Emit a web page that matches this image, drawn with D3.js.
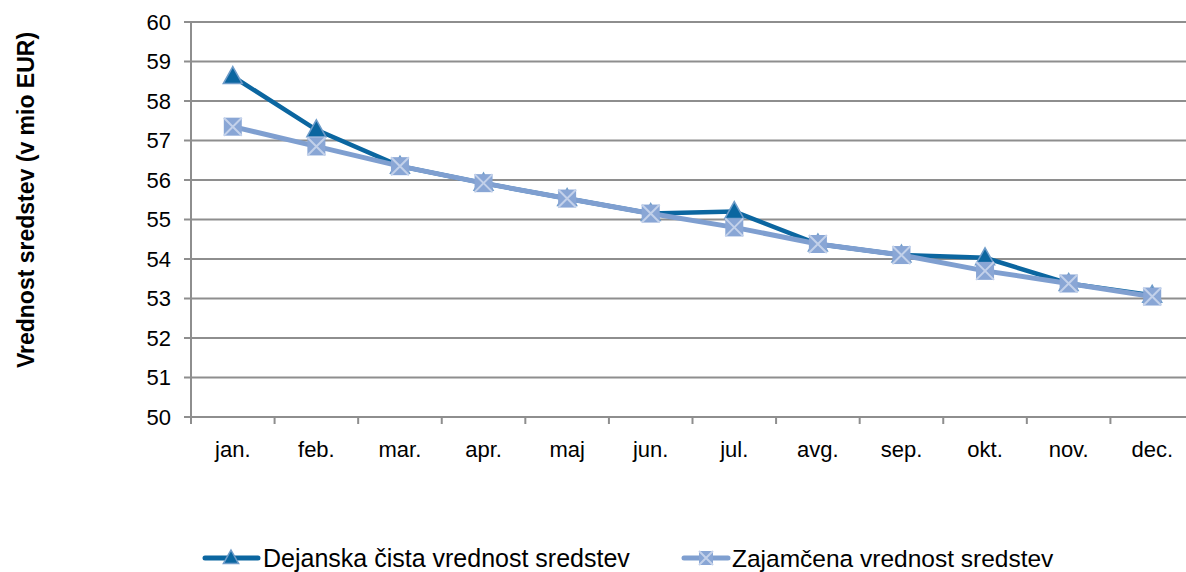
<!DOCTYPE html>
<html>
<head>
<meta charset="utf-8">
<script src="https://cdn.jsdelivr.net/npm/d3@7"></script>
<style>
  body { margin: 0; background: #fff; }
  svg text { font-family: "Liberation Sans", Arial, sans-serif; fill: #000; }
</style>
</head>
<body>
<svg id="chart" width="1186" height="572"></svg>
<script>
const months = ['jan.', 'feb.', 'mar.', 'apr.', 'maj', 'jun.', 'jul.', 'avg.', 'sep.', 'okt.', 'nov.', 'dec.'];
const dejanska = [58.62, 57.27, 56.35, 55.92, 55.53, 55.15, 55.2, 54.38, 54.1, 54.03, 53.38, 53.08];
const zajamcena = [57.35, 56.85, 56.35, 55.92, 55.53, 55.15, 54.8, 54.38, 54.1, 53.7, 53.38, 53.05];
const yTicks = [50, 51, 52, 53, 54, 55, 56, 57, 58, 59, 60];

const darkCol = '#0b66a0';
const lightCol = '#7f9fd0';

const svg = d3.select('#chart');
const plotL = 191, plotR = 1194, plotT = 22, plotB = 417;

const x = d3.scaleBand().domain(months).range([plotL, plotR]);
const y = d3.scaleLinear().domain([50, 60]).range([plotB, plotT]);

// gridlines
svg.append('g')
  .selectAll('line')
  .data(yTicks)
  .join('line')
  .attr('x1', plotL - 7)
  .attr('x2', plotR)
  .attr('y1', d => y(d))
  .attr('y2', d => y(d))
  .attr('stroke', '#8e8e8e')
  .attr('stroke-width', 2);

// y tick labels
svg.append('g')
  .selectAll('text')
  .data(yTicks)
  .join('text')
  .attr('x', 171)
  .attr('y', d => y(d))
  .attr('dy', '0.36em')
  .attr('text-anchor', 'end')
  .attr('font-size', 22)
  .text(d => d);

// y axis line
svg.append('line')
  .attr('x1', plotL).attr('x2', plotL)
  .attr('y1', plotT).attr('y2', plotB + 7)
  .attr('stroke', '#8e8e8e').attr('stroke-width', 2);

// x ticks at band edges
let edges = months.map(m => x(m)).concat([plotR]);
svg.append('g')
  .selectAll('line')
  .data(edges)
  .join('line')
  .attr('x1', d => d).attr('x2', d => d)
  .attr('y1', plotB).attr('y2', plotB + 7)
  .attr('stroke', '#8e8e8e').attr('stroke-width', 2);

svg.append('g')
  .selectAll('text')
  .data(months)
  .join('text')
  .attr('x', d => x(d) + x.bandwidth() / 2)
  .attr('y', 457)
  .attr('text-anchor', 'middle')
  .attr('font-size', 22)
  .text(d => d);

// axis title
svg.append('text')
  .attr('transform', 'translate(34,200) rotate(-90)')
  .attr('text-anchor', 'middle')
  .attr('font-size', 23)
  .attr('font-weight', 'bold')
  .text('Vrednost sredstev (v mio EUR)');

const line = d3.line()
  .x((d, i) => x(months[i]) + x.bandwidth() / 2)
  .y(d => y(d));

function triangle(g, cx, cy, s) {
  g.append('path')
    .attr('d', 'M' + cx + ',' + (cy - s) + 'L' + (cx + s * 0.95) + ',' + (cy + s * 0.7) + 'L' + (cx - s * 0.95) + ',' + (cy + s * 0.7) + 'Z')
    .attr('fill', darkCol)
    .attr('stroke', '#6f9cc9')
    .attr('stroke-width', 1.5);
}

function boxX(g, cx, cy, s) {
  g.append('rect')
    .attr('x', cx - s).attr('y', cy - s)
    .attr('width', 2 * s).attr('height', 2 * s)
    .attr('fill', '#89a6d5');
  g.append('path')
    .attr('d', 'M' + (cx - s) + ',' + (cy - s) + 'L' + (cx + s) + ',' + (cy + s) + 'M' + (cx + s) + ',' + (cy - s) + 'L' + (cx - s) + ',' + (cy + s))
    .attr('stroke', '#c3d1ea')
    .attr('stroke-width', 2);
}

// series 1
svg.append('path')
  .datum(dejanska)
  .attr('d', line)
  .attr('fill', 'none')
  .attr('stroke', darkCol)
  .attr('stroke-width', 4.5);

const m1 = svg.append('g');
dejanska.forEach((v, i) => triangle(m1, x(months[i]) + x.bandwidth() / 2, y(v), 10));

// series 2
svg.append('path')
  .datum(zajamcena)
  .attr('d', line)
  .attr('fill', 'none')
  .attr('stroke', lightCol)
  .attr('stroke-width', 5);

const m2 = svg.append('g');
zajamcena.forEach((v, i) => boxX(m2, x(months[i]) + x.bandwidth() / 2, y(v), 9));

// legend
const leg = svg.append('g');
leg.append('line').attr('x1', 205).attr('x2', 258).attr('y1', 558).attr('y2', 558)
  .attr('stroke', darkCol).attr('stroke-width', 5).attr('stroke-linecap', 'round');
triangle(leg, 231, 558, 8);
leg.append('text').attr('x', 263).attr('y', 567).attr('font-size', 25).text('Dejanska čista vrednost sredstev');

leg.append('line').attr('x1', 684).attr('x2', 728).attr('y1', 558).attr('y2', 558)
  .attr('stroke', lightCol).attr('stroke-width', 5).attr('stroke-linecap', 'round');
boxX(leg, 706, 558, 7);
leg.append('text').attr('x', 732).attr('y', 567).attr('font-size', 24.5).text('Zajamčena vrednost sredstev');
</script>
</body>
</html>
